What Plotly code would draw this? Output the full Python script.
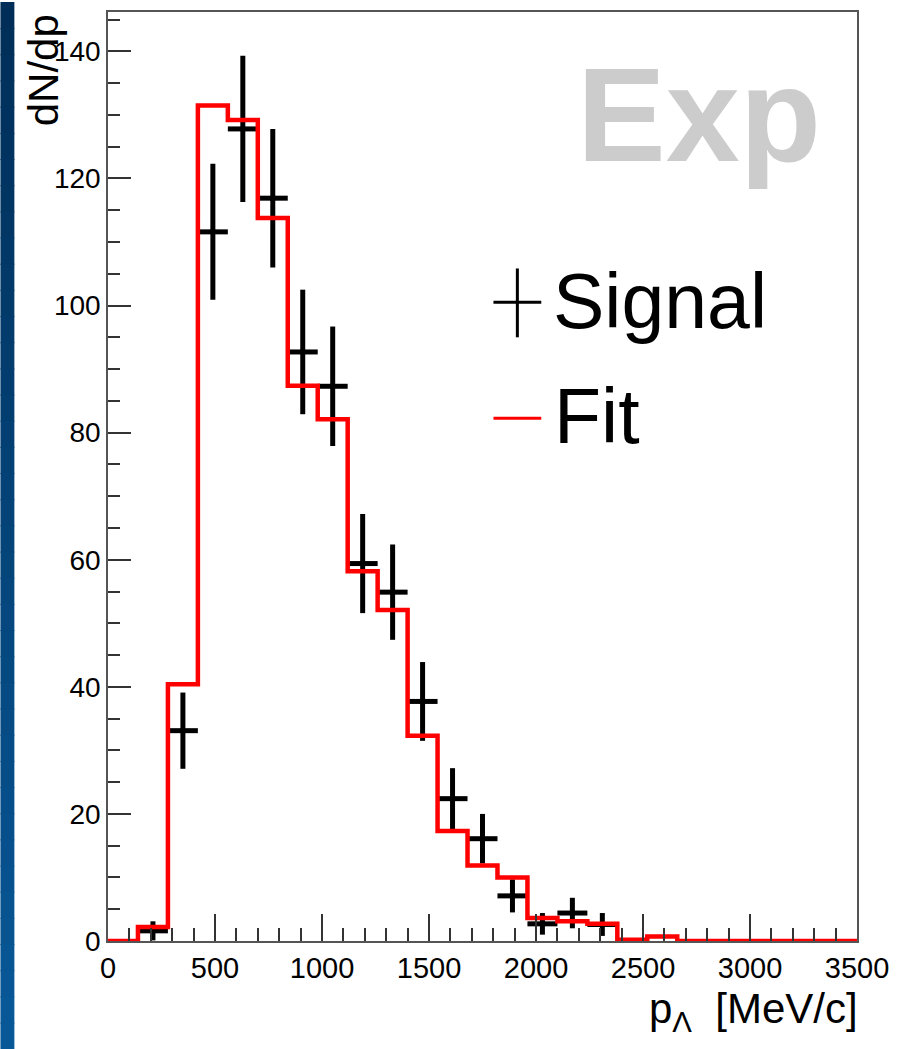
import plotly.graph_objects as go

# Histogram binning (MeV/c)
bin_edges = [0, 140, 280, 420, 560, 700, 840, 980, 1120, 1260, 1400, 1540, 1680,
             1820, 1960, 2100, 2240, 2380, 2520, 2660, 2800, 2940, 3080, 3220, 3360, 3500]
bin_half_width = 70

# Fitted distribution, one value per bin
fit_values = [0.0, 2.2, 40.4, 131.5, 129.2, 113.8, 87.4, 82.1, 58.2, 52.1, 32.3, 17.3,
              11.9, 10.0, 3.6, 3.1, 2.7, 0.2, 0.7, 0.0, 0.0, 0.0, 0.0, 0.0, 0.0]

# Measured signal: bin centres, counts and statistical errors
signal_p = [210, 350, 490, 630, 770, 910, 1050, 1190, 1330, 1470, 1610, 1750,
            1890, 2030, 2170, 2310]
signal_n = [1.6, 33.1, 111.6, 127.8, 116.9, 92.7, 87.3, 59.4, 54.9, 37.7, 22.4,
            16.1, 7.1, 2.7, 4.4, 2.6]
signal_err = [1.5, 6.0, 10.7, 11.5, 10.9, 9.8, 9.4, 7.8, 7.5, 6.2, 4.8, 3.9,
              2.6, 1.7, 2.4, 1.8]

x_ticks = [0, 500, 1000, 1500, 2000, 2500, 3000, 3500]
y_ticks = [0, 20, 40, 60, 80, 100, 120, 140]

W, H = 899, 1049
L, R, T, B = 108, 39, 10, 108
PW, PH = W - L - R, H - T - B


def px(x):
    return (x - L) / PW


def py(y):
    return (H - B - y) / PH


FONT = "Liberation Sans, Arial, Helvetica, sans-serif"

fig = go.Figure()

fig.add_trace(go.Scatter(
    x=signal_p, y=signal_n, mode="markers", name="Signal",
    marker=dict(size=0, color="black"),
    error_x=dict(type="constant", value=bin_half_width, width=0, thickness=5, color="black"),
    error_y=dict(type="data", array=signal_err, width=0, thickness=5, color="black"),
    showlegend=False,
))

fig.add_trace(go.Scatter(
    x=bin_edges, y=fit_values + [fit_values[-1]], mode="lines", name="Fit",
    line=dict(color="#ff0000", width=4.5, shape="hv"),
    showlegend=False,
))

shapes = []
# Blue gradient band on the left edge of the page
top_rgb = (0, 46, 88)
bot_rgb = (8, 88, 152)
n_strips = 40
for i in range(n_strips):
    t = i / (n_strips - 1)
    c = tuple(round(top_rgb[k] + (bot_rgb[k] - top_rgb[k]) * t) for k in range(3))
    y0 = H * i / n_strips
    y1 = H * (i + 1) / n_strips + 1
    shapes.append(dict(type="rect", xref="paper", yref="paper",
                       x0=px(0), x1=px(14), y0=py(y1), y1=py(y0),
                       fillcolor="rgb(%d,%d,%d)" % c, line=dict(width=0), layer="below"))

# Legend glyphs
shapes.append(dict(type="line", xref="paper", yref="paper",
                   x0=px(495), x1=px(543), y0=py(301), y1=py(301),
                   line=dict(color="black", width=3)))
shapes.append(dict(type="line", xref="paper", yref="paper",
                   x0=px(519), x1=px(519), y0=py(267), y1=py(336),
                   line=dict(color="black", width=3)))
shapes.append(dict(type="line", xref="paper", yref="paper",
                   x0=px(495), x1=px(543), y0=py(417), y1=py(417),
                   line=dict(color="#ff0000", width=3)))

annotations = [
    dict(text="Exp", xref="paper", yref="paper", x=px(577), y=py(113),
         xanchor="left", yanchor="middle", showarrow=False,
         font=dict(family=FONT, size=133, color="#cccccc", weight="bold")),
    dict(text="Signal", xref="paper", yref="paper", x=px(553), y=py(300),
         xanchor="left", yanchor="middle", showarrow=False,
         font=dict(family=FONT, size=77, color="black")),
    dict(text="Fit", xref="paper", yref="paper", x=px(554), y=py(415),
         xanchor="left", yanchor="middle", showarrow=False,
         font=dict(family=FONT, size=77, color="black")),
    dict(text="dN/dp", xref="paper", yref="paper", x=px(43), y=py(10),
         xanchor="center", yanchor="top", textangle=-90, showarrow=False,
         font=dict(family=FONT, size=42, color="black")),
    dict(text="p<sub>Λ</sub>  [MeV/c]", xref="paper", yref="paper", x=px(863), y=py(1012),
         xanchor="right", yanchor="middle", showarrow=False,
         font=dict(family=FONT, size=42, color="black")),
]

axis_common = dict(
    showgrid=False, zeroline=False, showline=True, mirror=True,
    linecolor="#555555", linewidth=1.5,
    ticks="inside", tickcolor="#333333", tickwidth=1.5,
)

fig.update_layout(
    width=W, height=H,
    margin=dict(l=L, r=R, t=T, b=B, pad=0),
    paper_bgcolor="white", plot_bgcolor="white",
    showlegend=False,
    shapes=shapes,
    annotations=annotations,
    xaxis=dict(
        range=[0, 3500], tickvals=x_ticks, ticktext=[str(v) for v in x_ticks],
        ticklen=27,
        minor=dict(dtick=100, ticklen=13, ticks="inside", tickcolor="#333333", tickwidth=1.5),
        tickfont=dict(family=FONT, size=29, color="black"),
        **axis_common,
    ),
    yaxis=dict(
        range=[0, 146.2], tickvals=y_ticks, ticktext=[str(v) for v in y_ticks],
        ticklen=23,
        minor=dict(dtick=5, ticklen=12, ticks="inside", tickcolor="#333333", tickwidth=1.5),
        tickfont=dict(family=FONT, size=28, color="black"),
        **axis_common,
    ),
)

fig.write_html("out.html")
